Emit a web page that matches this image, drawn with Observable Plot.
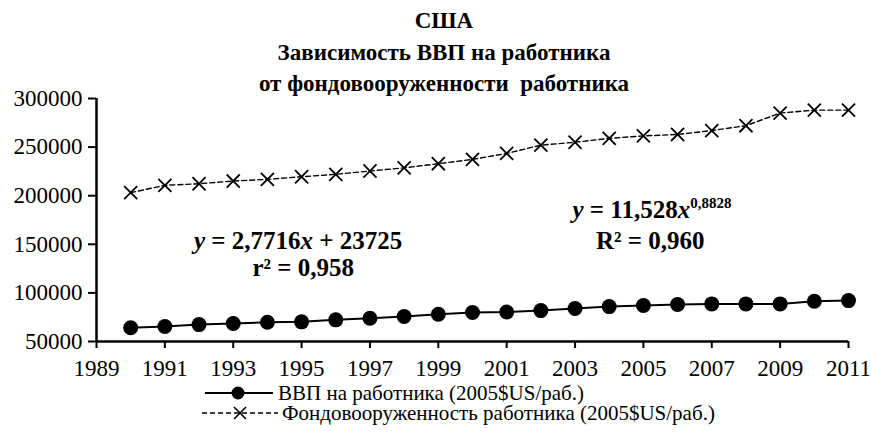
<!DOCTYPE html>
<html>
<head>
<meta charset="utf-8">
<script src="https://cdn.jsdelivr.net/npm/d3@7"></script>
<script src="https://cdn.jsdelivr.net/npm/@observablehq/plot@0.6"></script>
</head>
<body style="margin:0;padding:0;background:#fff;">
<div id="wrap" style="width:871px;height:432px;position:relative;overflow:hidden;color:#000;font-family:'Liberation Serif';">
  <div id="title" style="height:86px;padding-top:5px;box-sizing:border-box;padding-left:17px;text-align:center;font-weight:bold;font-size:23px;line-height:31.5px;white-space:nowrap;position:relative;z-index:2;font-family:'Liberation Serif';"></div>
  <div id="chart"></div>
  <div id="legend" style="padding-top:3px;font-size:21px;line-height:20px;font-family:'Liberation Serif';"></div>
</div>
<script>
const titleLines = ["США", "Зависимость ВВП на работника", "от фондовооруженности  работника"];
const years = [1990, 1991, 1992, 1993, 1994, 1995, 1996, 1997, 1998, 1999, 2000, 2001, 2002, 2003, 2004, 2005, 2006, 2007, 2008, 2009, 2010, 2011];
const gdpPerWorker = [64100, 65400, 67400, 68500, 69800, 70200, 72300, 73900, 75700, 78000, 79800, 80300, 81800, 83900, 85900, 87000, 88000, 88700, 88700, 88700, 91400, 92100];
const capitalPerWorker = [203100, 210700, 212300, 215100, 216800, 219500, 222000, 225400, 228700, 232900, 237400, 243500, 252000, 255000, 259000, 261500, 263000, 267000, 272000, 285000, 288000, 288000];
const xTicks = [1989, 1991, 1993, 1995, 1997, 1999, 2001, 2003, 2005, 2007, 2009, 2011];
const yTicks = [50000, 100000, 150000, 200000, 250000, 300000];
const seriesNames = ["ВВП на работника (2005$US/раб.)", "Фондовооруженность работника (2005$US/раб.)"];
const eqLinear = "y = 2,7716x + 23725";
const r2Linear = "r² = 0,958";
const eqPower = "y = 11,528x";
const eqPowerExp = "0,8828";
const r2Power = "R² = 0,960";

const FONT = "Liberation Serif";

const titleEl = document.getElementById("title");
titleLines.forEach(t => {
  const d = document.createElement("div");
  d.style.whiteSpace = "pre";
  d.textContent = t;
  titleEl.appendChild(d);
});

const gdpData = years.map((year, i) => ({year, value: gdpPerWorker[i]}));
const capData = years.map((year, i) => ({year, value: capitalPerWorker[i]}));

const txt = {fontFamily: FONT, fontSize: 25, fontWeight: "bold", fill: "black", textAnchor: "middle"};

const chart = Plot.plot({
  width: 871,
  height: 294,
  marginTop: 12,
  marginBottom: 39,
  marginLeft: 96,
  marginRight: 23,
  style: {fontFamily: FONT, fontSize: "23px"},
  x: {domain: [1989, 2011]},
  y: {domain: [50000, 300000]},
  marks: [
    Plot.axisX({ticks: xTicks, tickFormat: d => String(d), tickSize: 7, tickPadding: 11, label: null, strokeWidth: 2, fontSize: 23, fontFamily: FONT}),
    Plot.axisY({ticks: yTicks, tickFormat: d => String(d), tickSize: 8, tickPadding: 6, label: null, strokeWidth: 2, fontSize: 23, fontFamily: FONT}),
    Plot.ruleX([1989], {stroke: "black", strokeWidth: 2.5}),
    Plot.ruleY([50000], {stroke: "black", strokeWidth: 2.5}),
    Plot.line(capData, {x: "year", y: "value", stroke: "black", strokeWidth: 1.4, strokeDasharray: "5,3"}),
    Plot.dot(capData, {x: "year", y: "value", symbol: "times", r: 6, stroke: "black", strokeWidth: 1.8}),
    Plot.line(gdpData, {x: "year", y: "value", stroke: "black", strokeWidth: 2}),
    Plot.dot(gdpData, {x: "year", y: "value", r: 7.5, fill: "black", stroke: "none"}),
    Plot.text([eqLinear], {x: 1994.9, y: 153900, text: d => d, ...txt}),
    Plot.text([r2Linear], {x: 1995.05, y: 126100, text: d => d, ...txt}),
    Plot.text([eqPower], {x: 2005.25, y: 184800, text: d => d, ...txt}),
    Plot.text([r2Power], {x: 2005.2, y: 153900, text: d => d, ...txt})
  ]
});
document.getElementById("chart").appendChild(chart);

// italic variables and superscript exponent in the equations
const ital = s => `<tspan font-style="italic">${s}</tspan>`;
chart.querySelectorAll("text").forEach(t => {
  const s = t.textContent;
  if (s === eqLinear) {
    t.innerHTML = `${ital("y")} = 2,7716${ital("x")} + 23725`;
  } else if (s === eqPower) {
    t.innerHTML = `${ital("y")} = 11,528${ital("x")}<tspan font-size="15" dy="-10">${eqPowerExp}</tspan>`;
  }
});

// legend
const legend = d3.select("#legend");
const row1 = legend.append("div").style("display", "flex").style("align-items", "center").style("height", "20px").style("white-space", "nowrap").style("padding-left", "203px");
const s1 = row1.append("svg").attr("width", 72).attr("height", 20).style("display", "block").style("flex", "none");
s1.append("line").attr("x1", 2).attr("x2", 70).attr("y1", 10).attr("y2", 10).attr("stroke", "black").attr("stroke-width", 2);
s1.append("circle").attr("cx", 35).attr("cy", 10).attr("r", 6.5).attr("fill", "black");
row1.append("span").style("margin-left", "3px").text(seriesNames[0]);
const row2 = legend.append("div").style("display", "flex").style("align-items", "center").style("height", "20px").style("white-space", "nowrap").style("padding-left", "202px");
const s2 = row2.append("svg").attr("width", 76).attr("height", 20).style("display", "block").style("flex", "none");
s2.append("line").attr("x1", 0).attr("x2", 76).attr("y1", 10).attr("y2", 10).attr("stroke", "black").attr("stroke-width", 1.3).attr("stroke-dasharray", "5,3");
s2.append("path").attr("d", "M32,4L44,16M32,16L44,4").attr("stroke", "black").attr("stroke-width", 1.6).attr("fill", "none");
row2.append("span").style("margin-left", "4px").text(seriesNames[1]);
</script>
</body>
</html>
